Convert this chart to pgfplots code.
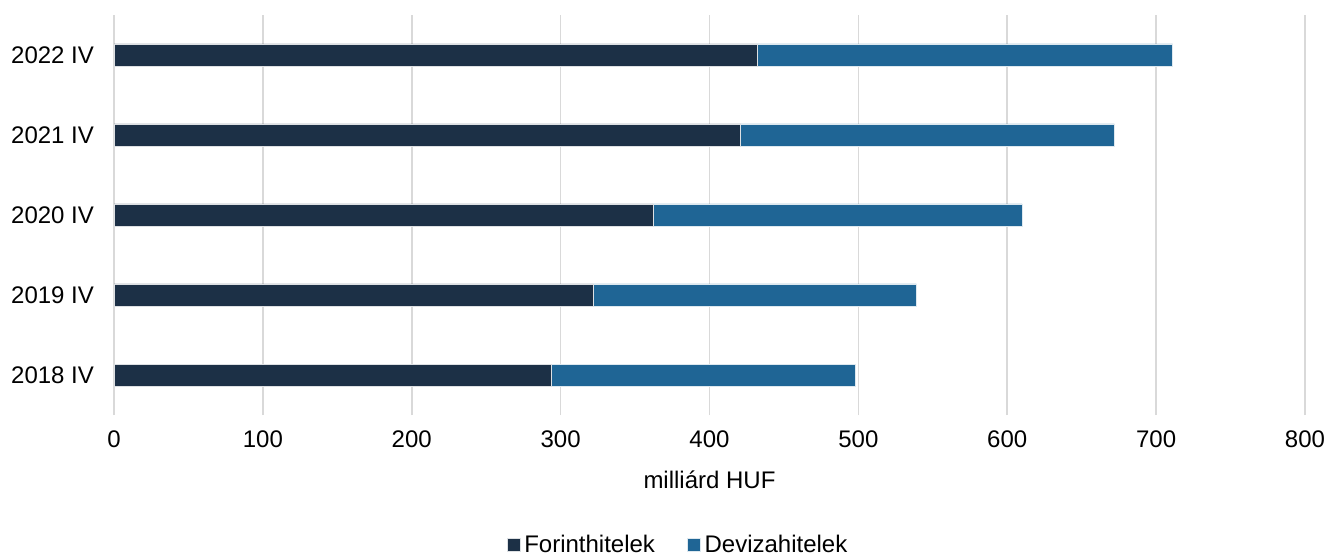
\documentclass[border=0pt]{standalone}
\usepackage{fontspec}
\setmainfont{Liberation Sans}
\usepackage{pgfplots}
\pgfplotsset{compat=1.18}
\usetikzlibrary{calc}
\definecolor{darkbar}{HTML}{1C3046}
\definecolor{bluebar}{HTML}{1F6595}
\definecolor{gridc}{HTML}{D9D9D9}
\begin{document}
\begin{tikzpicture}[font=\fontsize{12pt}{14pt}\selectfont]
\begin{axis}[
  name=ax,
  scale only axis,
  width=595.5pt, height=200pt,
  xbar stacked,
  bar width=11pt,
  xmin=0, xmax=800,
  ymin=-0.5, ymax=4.5,
  xtick={0,100,...,800},
  ytick={0,1,2,3,4},
  yticklabels={2018 IV,2019 IV,2020 IV,2021 IV,2022 IV},
  xmajorgrids,
  grid style={gridc, line width=0.8pt},
  axis line style={draw=none},
  major tick length=0pt,
  /pgf/number format/assume math mode=true,
  xticklabel style={yshift=-4.5pt},
  yticklabel style={xshift=-6.5pt},
  xlabel={milliárd HUF},
  xlabel style={at={(axis description cs:0.5,0)}, anchor=center, yshift=-32.5pt},
  legend style={at={(axis description cs:0.4744,0)}, anchor=center, yshift=-65pt,
    draw=none, legend columns=2, /tikz/every even column/.append style={column sep=14pt},
    inner sep=0pt},
  legend cell align=left,
  area legend,
  legend image code/.code={\fill[#1] (0pt,-3.25pt) rectangle (6.5pt,3.25pt);},
]
\addplot[fill=darkbar, draw=white!85!darkbar, line width=0.3pt] coordinates {(294,0) (322,1) (362,2) (421,3) (432,4)};
\addplot[fill=bluebar, draw=white!85!bluebar, line width=0.3pt] coordinates {(204,0) (217,1) (248,2) (251,3) (279,4)};
\legend{Forinthitelek, Devizahitelek}
\end{axis}
\pgfresetboundingbox
\path ($(ax.south west)+(-57pt,-70.5pt)$) rectangle ($(ax.north east)+(10.5pt,7.5pt)$);
\end{tikzpicture}
\end{document}
